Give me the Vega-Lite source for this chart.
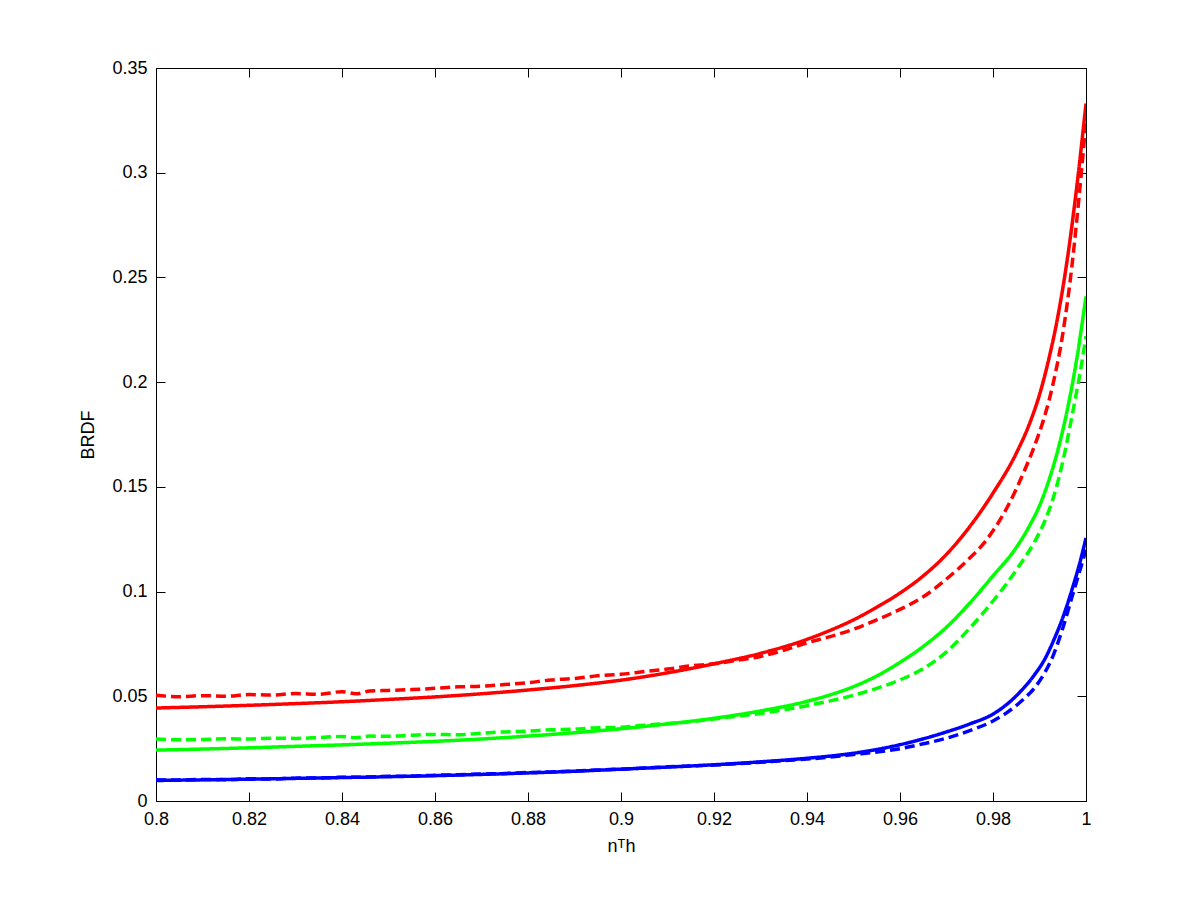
{
  "$schema": "https://vega.github.io/schema/vega-lite/v6.json",
  "autosize": {"type": "none"},
  "padding": {"left": 156, "top": 68, "right": 114, "bottom": 99},
  "width": 930,
  "height": 733,
  "background": "white",
  "config": {
    "view": {"stroke": "black", "strokeWidth": 1},
    "font": "Liberation Sans",
    "axis": {
      "domainColor": "black",
      "tickColor": "black",
      "tickSize": -9,
      "grid": false,
      "labelFont": "Liberation Sans",
      "labelFontSize": 18,
      "labelColor": "black",
      "titleFont": "Liberation Sans",
      "titleFontSize": 18,
      "titleFontWeight": "normal",
      "titleColor": "black"
    }
  },
  "datasets": {
    "curves": [
      {"x":0.800,"y":0.0444,"c":"red","s":"solid"},
      {"x":0.810,"y":0.0450,"c":"red","s":"solid"},
      {"x":0.820,"y":0.0457,"c":"red","s":"solid"},
      {"x":0.830,"y":0.0465,"c":"red","s":"solid"},
      {"x":0.840,"y":0.0474,"c":"red","s":"solid"},
      {"x":0.850,"y":0.0485,"c":"red","s":"solid"},
      {"x":0.860,"y":0.0497,"c":"red","s":"solid"},
      {"x":0.870,"y":0.0512,"c":"red","s":"solid"},
      {"x":0.880,"y":0.0530,"c":"red","s":"solid"},
      {"x":0.890,"y":0.0551,"c":"red","s":"solid"},
      {"x":0.900,"y":0.0577,"c":"red","s":"solid"},
      {"x":0.910,"y":0.0612,"c":"red","s":"solid"},
      {"x":0.920,"y":0.0655,"c":"red","s":"solid"},
      {"x":0.930,"y":0.0705,"c":"red","s":"solid"},
      {"x":0.940,"y":0.0772,"c":"red","s":"solid"},
      {"x":0.945,"y":0.0815,"c":"red","s":"solid"},
      {"x":0.950,"y":0.0865,"c":"red","s":"solid"},
      {"x":0.955,"y":0.0925,"c":"red","s":"solid"},
      {"x":0.960,"y":0.0993,"c":"red","s":"solid"},
      {"x":0.965,"y":0.1075,"c":"red","s":"solid"},
      {"x":0.970,"y":0.1178,"c":"red","s":"solid"},
      {"x":0.975,"y":0.1310,"c":"red","s":"solid"},
      {"x":0.980,"y":0.1470,"c":"red","s":"solid"},
      {"x":0.985,"y":0.1660,"c":"red","s":"solid"},
      {"x":0.988,"y":0.1810,"c":"red","s":"solid"},
      {"x":0.990,"y":0.1940,"c":"red","s":"solid"},
      {"x":0.992,"y":0.2110,"c":"red","s":"solid"},
      {"x":0.994,"y":0.2320,"c":"red","s":"solid"},
      {"x":0.996,"y":0.2590,"c":"red","s":"solid"},
      {"x":0.998,"y":0.2930,"c":"red","s":"solid"},
      {"x":1.000,"y":0.3330,"c":"red","s":"solid"},

      {"x":0.800,"y":0.0505,"c":"red","s":"dashed"},
      {"x":0.805,"y":0.0498,"c":"red","s":"dashed"},
      {"x":0.810,"y":0.0503,"c":"red","s":"dashed"},
      {"x":0.815,"y":0.0500,"c":"red","s":"dashed"},
      {"x":0.820,"y":0.0508,"c":"red","s":"dashed"},
      {"x":0.825,"y":0.0506,"c":"red","s":"dashed"},
      {"x":0.830,"y":0.0513,"c":"red","s":"dashed"},
      {"x":0.835,"y":0.0510,"c":"red","s":"dashed"},
      {"x":0.840,"y":0.0522,"c":"red","s":"dashed"},
      {"x":0.843,"y":0.0512,"c":"red","s":"dashed"},
      {"x":0.846,"y":0.0525,"c":"red","s":"dashed"},
      {"x":0.850,"y":0.0528,"c":"red","s":"dashed"},
      {"x":0.855,"y":0.0532,"c":"red","s":"dashed"},
      {"x":0.860,"y":0.0538,"c":"red","s":"dashed"},
      {"x":0.865,"y":0.0545,"c":"red","s":"dashed"},
      {"x":0.870,"y":0.0548,"c":"red","s":"dashed"},
      {"x":0.875,"y":0.0556,"c":"red","s":"dashed"},
      {"x":0.880,"y":0.0565,"c":"red","s":"dashed"},
      {"x":0.885,"y":0.0578,"c":"red","s":"dashed"},
      {"x":0.890,"y":0.0585,"c":"red","s":"dashed"},
      {"x":0.895,"y":0.0598,"c":"red","s":"dashed"},
      {"x":0.900,"y":0.0605,"c":"red","s":"dashed"},
      {"x":0.905,"y":0.0618,"c":"red","s":"dashed"},
      {"x":0.910,"y":0.0630,"c":"red","s":"dashed"},
      {"x":0.915,"y":0.0645,"c":"red","s":"dashed"},
      {"x":0.920,"y":0.0655,"c":"red","s":"dashed"},
      {"x":0.925,"y":0.0672,"c":"red","s":"dashed"},
      {"x":0.930,"y":0.0690,"c":"red","s":"dashed"},
      {"x":0.935,"y":0.0720,"c":"red","s":"dashed"},
      {"x":0.940,"y":0.0755,"c":"red","s":"dashed"},
      {"x":0.945,"y":0.0785,"c":"red","s":"dashed"},
      {"x":0.950,"y":0.0820,"c":"red","s":"dashed"},
      {"x":0.955,"y":0.0865,"c":"red","s":"dashed"},
      {"x":0.960,"y":0.0915,"c":"red","s":"dashed"},
      {"x":0.965,"y":0.0975,"c":"red","s":"dashed"},
      {"x":0.970,"y":0.1060,"c":"red","s":"dashed"},
      {"x":0.975,"y":0.1160,"c":"red","s":"dashed"},
      {"x":0.978,"y":0.1230,"c":"red","s":"dashed"},
      {"x":0.980,"y":0.1290,"c":"red","s":"dashed"},
      {"x":0.983,"y":0.1400,"c":"red","s":"dashed"},
      {"x":0.985,"y":0.1490,"c":"red","s":"dashed"},
      {"x":0.987,"y":0.1590,"c":"red","s":"dashed"},
      {"x":0.989,"y":0.1700,"c":"red","s":"dashed"},
      {"x":0.991,"y":0.1830,"c":"red","s":"dashed"},
      {"x":0.993,"y":0.2000,"c":"red","s":"dashed"},
      {"x":0.995,"y":0.2230,"c":"red","s":"dashed"},
      {"x":0.997,"y":0.2560,"c":"red","s":"dashed"},
      {"x":0.998,"y":0.2770,"c":"red","s":"dashed"},
      {"x":0.999,"y":0.3000,"c":"red","s":"dashed"},
      {"x":1.000,"y":0.3250,"c":"red","s":"dashed"},

      {"x":0.800,"y":0.0243,"c":"green","s":"solid"},
      {"x":0.810,"y":0.0248,"c":"green","s":"solid"},
      {"x":0.820,"y":0.0254,"c":"green","s":"solid"},
      {"x":0.830,"y":0.0261,"c":"green","s":"solid"},
      {"x":0.840,"y":0.0268,"c":"green","s":"solid"},
      {"x":0.850,"y":0.0276,"c":"green","s":"solid"},
      {"x":0.860,"y":0.0285,"c":"green","s":"solid"},
      {"x":0.870,"y":0.0296,"c":"green","s":"solid"},
      {"x":0.880,"y":0.0310,"c":"green","s":"solid"},
      {"x":0.890,"y":0.0326,"c":"green","s":"solid"},
      {"x":0.900,"y":0.0345,"c":"green","s":"solid"},
      {"x":0.910,"y":0.0368,"c":"green","s":"solid"},
      {"x":0.920,"y":0.0395,"c":"green","s":"solid"},
      {"x":0.930,"y":0.0430,"c":"green","s":"solid"},
      {"x":0.940,"y":0.0476,"c":"green","s":"solid"},
      {"x":0.945,"y":0.0507,"c":"green","s":"solid"},
      {"x":0.950,"y":0.0546,"c":"green","s":"solid"},
      {"x":0.955,"y":0.0597,"c":"green","s":"solid"},
      {"x":0.960,"y":0.0662,"c":"green","s":"solid"},
      {"x":0.965,"y":0.0738,"c":"green","s":"solid"},
      {"x":0.970,"y":0.0830,"c":"green","s":"solid"},
      {"x":0.975,"y":0.0945,"c":"green","s":"solid"},
      {"x":0.980,"y":0.1075,"c":"green","s":"solid"},
      {"x":0.985,"y":0.1210,"c":"green","s":"solid"},
      {"x":0.988,"y":0.1320,"c":"green","s":"solid"},
      {"x":0.990,"y":0.1410,"c":"green","s":"solid"},
      {"x":0.992,"y":0.1530,"c":"green","s":"solid"},
      {"x":0.994,"y":0.1680,"c":"green","s":"solid"},
      {"x":0.996,"y":0.1870,"c":"green","s":"solid"},
      {"x":0.998,"y":0.2110,"c":"green","s":"solid"},
      {"x":1.000,"y":0.2410,"c":"green","s":"solid"},

      {"x":0.800,"y":0.0296,"c":"green","s":"dashed"},
      {"x":0.805,"y":0.0292,"c":"green","s":"dashed"},
      {"x":0.810,"y":0.0294,"c":"green","s":"dashed"},
      {"x":0.815,"y":0.0297,"c":"green","s":"dashed"},
      {"x":0.820,"y":0.0296,"c":"green","s":"dashed"},
      {"x":0.825,"y":0.0300,"c":"green","s":"dashed"},
      {"x":0.830,"y":0.0299,"c":"green","s":"dashed"},
      {"x":0.835,"y":0.0303,"c":"green","s":"dashed"},
      {"x":0.840,"y":0.0308,"c":"green","s":"dashed"},
      {"x":0.843,"y":0.0302,"c":"green","s":"dashed"},
      {"x":0.846,"y":0.0310,"c":"green","s":"dashed"},
      {"x":0.850,"y":0.0309,"c":"green","s":"dashed"},
      {"x":0.855,"y":0.0314,"c":"green","s":"dashed"},
      {"x":0.860,"y":0.0318,"c":"green","s":"dashed"},
      {"x":0.865,"y":0.0316,"c":"green","s":"dashed"},
      {"x":0.870,"y":0.0324,"c":"green","s":"dashed"},
      {"x":0.875,"y":0.0330,"c":"green","s":"dashed"},
      {"x":0.880,"y":0.0334,"c":"green","s":"dashed"},
      {"x":0.885,"y":0.0340,"c":"green","s":"dashed"},
      {"x":0.890,"y":0.0343,"c":"green","s":"dashed"},
      {"x":0.895,"y":0.0350,"c":"green","s":"dashed"},
      {"x":0.900,"y":0.0352,"c":"green","s":"dashed"},
      {"x":0.905,"y":0.0362,"c":"green","s":"dashed"},
      {"x":0.910,"y":0.0370,"c":"green","s":"dashed"},
      {"x":0.915,"y":0.0378,"c":"green","s":"dashed"},
      {"x":0.920,"y":0.0392,"c":"green","s":"dashed"},
      {"x":0.925,"y":0.0405,"c":"green","s":"dashed"},
      {"x":0.930,"y":0.0418,"c":"green","s":"dashed"},
      {"x":0.935,"y":0.0435,"c":"green","s":"dashed"},
      {"x":0.940,"y":0.0455,"c":"green","s":"dashed"},
      {"x":0.945,"y":0.0478,"c":"green","s":"dashed"},
      {"x":0.950,"y":0.0505,"c":"green","s":"dashed"},
      {"x":0.955,"y":0.0538,"c":"green","s":"dashed"},
      {"x":0.960,"y":0.0578,"c":"green","s":"dashed"},
      {"x":0.965,"y":0.0632,"c":"green","s":"dashed"},
      {"x":0.970,"y":0.0712,"c":"green","s":"dashed"},
      {"x":0.975,"y":0.0825,"c":"green","s":"dashed"},
      {"x":0.980,"y":0.0955,"c":"green","s":"dashed"},
      {"x":0.983,"y":0.1040,"c":"green","s":"dashed"},
      {"x":0.986,"y":0.1135,"c":"green","s":"dashed"},
      {"x":0.989,"y":0.1240,"c":"green","s":"dashed"},
      {"x":0.991,"y":0.1330,"c":"green","s":"dashed"},
      {"x":0.993,"y":0.1450,"c":"green","s":"dashed"},
      {"x":0.995,"y":0.1620,"c":"green","s":"dashed"},
      {"x":0.997,"y":0.1840,"c":"green","s":"dashed"},
      {"x":0.999,"y":0.2080,"c":"green","s":"dashed"},
      {"x":1.000,"y":0.2220,"c":"green","s":"dashed"},

      {"x":0.800,"y":0.0098,"c":"blue","s":"solid"},
      {"x":0.810,"y":0.0101,"c":"blue","s":"solid"},
      {"x":0.820,"y":0.0104,"c":"blue","s":"solid"},
      {"x":0.830,"y":0.0108,"c":"blue","s":"solid"},
      {"x":0.840,"y":0.0112,"c":"blue","s":"solid"},
      {"x":0.850,"y":0.0116,"c":"blue","s":"solid"},
      {"x":0.860,"y":0.0121,"c":"blue","s":"solid"},
      {"x":0.870,"y":0.0127,"c":"blue","s":"solid"},
      {"x":0.880,"y":0.0134,"c":"blue","s":"solid"},
      {"x":0.890,"y":0.0142,"c":"blue","s":"solid"},
      {"x":0.900,"y":0.0152,"c":"blue","s":"solid"},
      {"x":0.910,"y":0.0162,"c":"blue","s":"solid"},
      {"x":0.920,"y":0.0173,"c":"blue","s":"solid"},
      {"x":0.930,"y":0.0187,"c":"blue","s":"solid"},
      {"x":0.940,"y":0.0204,"c":"blue","s":"solid"},
      {"x":0.950,"y":0.0228,"c":"blue","s":"solid"},
      {"x":0.955,"y":0.0246,"c":"blue","s":"solid"},
      {"x":0.960,"y":0.0269,"c":"blue","s":"solid"},
      {"x":0.965,"y":0.0297,"c":"blue","s":"solid"},
      {"x":0.970,"y":0.0330,"c":"blue","s":"solid"},
      {"x":0.975,"y":0.0368,"c":"blue","s":"solid"},
      {"x":0.980,"y":0.0415,"c":"blue","s":"solid"},
      {"x":0.983,"y":0.0462,"c":"blue","s":"solid"},
      {"x":0.986,"y":0.0525,"c":"blue","s":"solid"},
      {"x":0.989,"y":0.0605,"c":"blue","s":"solid"},
      {"x":0.991,"y":0.0672,"c":"blue","s":"solid"},
      {"x":0.993,"y":0.0765,"c":"blue","s":"solid"},
      {"x":0.995,"y":0.0875,"c":"blue","s":"solid"},
      {"x":0.997,"y":0.1010,"c":"blue","s":"solid"},
      {"x":0.999,"y":0.1165,"c":"blue","s":"solid"},
      {"x":1.000,"y":0.1256,"c":"blue","s":"solid"},

      {"x":0.800,"y":0.0102,"c":"blue","s":"dashed"},
      {"x":0.805,"y":0.0100,"c":"blue","s":"dashed"},
      {"x":0.810,"y":0.0103,"c":"blue","s":"dashed"},
      {"x":0.815,"y":0.0102,"c":"blue","s":"dashed"},
      {"x":0.820,"y":0.0106,"c":"blue","s":"dashed"},
      {"x":0.825,"y":0.0105,"c":"blue","s":"dashed"},
      {"x":0.830,"y":0.0109,"c":"blue","s":"dashed"},
      {"x":0.835,"y":0.0110,"c":"blue","s":"dashed"},
      {"x":0.840,"y":0.0113,"c":"blue","s":"dashed"},
      {"x":0.845,"y":0.0114,"c":"blue","s":"dashed"},
      {"x":0.850,"y":0.0118,"c":"blue","s":"dashed"},
      {"x":0.855,"y":0.0119,"c":"blue","s":"dashed"},
      {"x":0.860,"y":0.0123,"c":"blue","s":"dashed"},
      {"x":0.865,"y":0.0125,"c":"blue","s":"dashed"},
      {"x":0.870,"y":0.0129,"c":"blue","s":"dashed"},
      {"x":0.875,"y":0.0131,"c":"blue","s":"dashed"},
      {"x":0.880,"y":0.0136,"c":"blue","s":"dashed"},
      {"x":0.885,"y":0.0139,"c":"blue","s":"dashed"},
      {"x":0.890,"y":0.0143,"c":"blue","s":"dashed"},
      {"x":0.895,"y":0.0148,"c":"blue","s":"dashed"},
      {"x":0.900,"y":0.0152,"c":"blue","s":"dashed"},
      {"x":0.905,"y":0.0157,"c":"blue","s":"dashed"},
      {"x":0.910,"y":0.0163,"c":"blue","s":"dashed"},
      {"x":0.915,"y":0.0167,"c":"blue","s":"dashed"},
      {"x":0.920,"y":0.0172,"c":"blue","s":"dashed"},
      {"x":0.925,"y":0.0178,"c":"blue","s":"dashed"},
      {"x":0.930,"y":0.0185,"c":"blue","s":"dashed"},
      {"x":0.935,"y":0.0193,"c":"blue","s":"dashed"},
      {"x":0.940,"y":0.0200,"c":"blue","s":"dashed"},
      {"x":0.945,"y":0.0210,"c":"blue","s":"dashed"},
      {"x":0.950,"y":0.0222,"c":"blue","s":"dashed"},
      {"x":0.955,"y":0.0234,"c":"blue","s":"dashed"},
      {"x":0.960,"y":0.0250,"c":"blue","s":"dashed"},
      {"x":0.965,"y":0.0273,"c":"blue","s":"dashed"},
      {"x":0.970,"y":0.0300,"c":"blue","s":"dashed"},
      {"x":0.975,"y":0.0336,"c":"blue","s":"dashed"},
      {"x":0.980,"y":0.0382,"c":"blue","s":"dashed"},
      {"x":0.983,"y":0.0422,"c":"blue","s":"dashed"},
      {"x":0.986,"y":0.0475,"c":"blue","s":"dashed"},
      {"x":0.989,"y":0.0542,"c":"blue","s":"dashed"},
      {"x":0.991,"y":0.0608,"c":"blue","s":"dashed"},
      {"x":0.993,"y":0.0698,"c":"blue","s":"dashed"},
      {"x":0.995,"y":0.0825,"c":"blue","s":"dashed"},
      {"x":0.997,"y":0.0975,"c":"blue","s":"dashed"},
      {"x":0.999,"y":0.1125,"c":"blue","s":"dashed"},
      {"x":1.000,"y":0.1200,"c":"blue","s":"dashed"}
    ]
  },
  "data": {"name": "curves"},
  "resolve": {"axis": {"x": "independent", "y": "independent"}},
  "layer": [
    {
      "mark": {"type": "line", "strokeWidth": 3.5, "clip": true, "interpolate": "monotone"},
      "encoding": {
        "x": {
          "field": "x", "type": "quantitative",
          "scale": {"domain": [0.8, 1], "nice": false, "zero": false},
          "axis": {
            "orient": "bottom",
            "title": "nᵀh",
            "values": [0.8, 0.82, 0.84, 0.86, 0.88, 0.9, 0.92, 0.94, 0.96, 0.98, 1],
            "format": "~g",
            "labelPadding": 18,
            "titlePadding": 9,
            "labelFlush": false,
            "labelOverlap": false
          }
        },
        "y": {
          "field": "y", "type": "quantitative",
          "scale": {"domain": [0, 0.35], "nice": false, "zero": false},
          "axis": {
            "orient": "left",
            "title": "BRDF",
            "values": [0, 0.05, 0.1, 0.15, 0.2, 0.25, 0.3, 0.35],
            "format": "~g",
            "labelPadding": 18,
            "titlePadding": 14,
            "labelFlush": false,
            "labelOverlap": false
          }
        },
        "color": {
          "field": "c", "type": "nominal",
          "scale": {"domain": ["red", "green", "blue"], "range": ["#ff0000", "#00ff00", "#0000ff"]},
          "legend": null
        },
        "strokeDash": {
          "field": "s", "type": "nominal",
          "scale": {"domain": ["solid", "dashed"], "range": [[1, 0], [10, 5]]},
          "legend": null
        },
        "detail": {"field": "s"}
      }
    },
    {
      "mark": {"type": "line", "opacity": 0},
      "encoding": {
        "x": {
          "field": "x", "type": "quantitative",
          "scale": {"domain": [0.8, 1], "nice": false, "zero": false},
          "axis": {
            "orient": "top",
            "title": null,
            "labels": false,
            "values": [0.8, 0.82, 0.84, 0.86, 0.88, 0.9, 0.92, 0.94, 0.96, 0.98, 1]
          }
        },
        "y": {
          "field": "y", "type": "quantitative",
          "scale": {"domain": [0, 0.35], "nice": false, "zero": false},
          "axis": {
            "orient": "right",
            "title": null,
            "labels": false,
            "values": [0, 0.05, 0.1, 0.15, 0.2, 0.25, 0.3, 0.35]
          }
        },
        "detail": {"field": "c"}
      }
    }
  ]
}
